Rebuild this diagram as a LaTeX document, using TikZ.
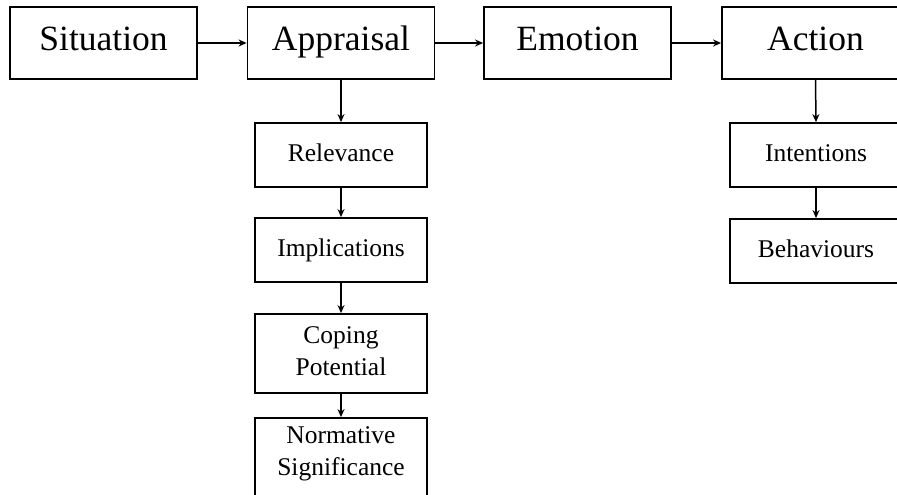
\documentclass[tikz,border=0pt]{standalone}
\usepackage{fontspec}
\setmainfont{Liberation Serif}
\usetikzlibrary{arrows.meta}
\begin{document}
\begin{tikzpicture}[x=1pt,y=-1pt,
  bigbox/.style={draw,line width=1.8pt,minimum width=187pt,minimum height=72pt,inner sep=0pt,
    font=\fontsize{35.5}{40}\selectfont},
  subbox/.style={draw,line width=1.8pt,minimum width=172pt,minimum height=64pt,inner sep=0pt,
    align=center,font=\fontsize{25.5}{32}\selectfont},
  conn/.style={line width=1.5pt,-{Stealth[length=8pt,width=7pt]}}]
\useasboundingbox (0,0) rectangle (897,495);
\clip (0,0) rectangle (897,495);
\node[bigbox] (sit) at (103.5,43) {\strut Situation};
\node[bigbox] (app) at (341,43) {\strut Appraisal};
\node[bigbox] (emo) at (577.5,43) {\strut Emotion};
\node[bigbox] (act) at (815.5,43) {\strut Action};
\node[subbox] (rel) at (341,155) {\strut Relevance};
\node[subbox] (imp) at (341,250) {\strut Implications};
\node[subbox,minimum height=79pt] (cop) at (341,353.5) {\strut Coping\\\strut Potential};
\node[subbox,minimum height=80pt] (nor) at (341,458) {\strut Normative\\\strut Significance\rule[-20pt]{0pt}{20pt}};
\node[subbox] (int) at (816,155) {\strut Intentions};
\node[subbox] (beh) at (816,251) {\strut Behaviours};
\draw[conn] (sit) -- (app);
\draw[conn] (app) -- (emo);
\draw[conn] (emo) -- (act);
\draw[conn] (app.south) -- (rel.north);
\draw[conn] (rel) -- (imp);
\draw[conn] (imp) -- (cop);
\draw[conn] (cop) -- (nor);
\draw[conn] (act.south) -- (int.north);
\draw[conn] (int) -- (beh);
\end{tikzpicture}
\end{document}
